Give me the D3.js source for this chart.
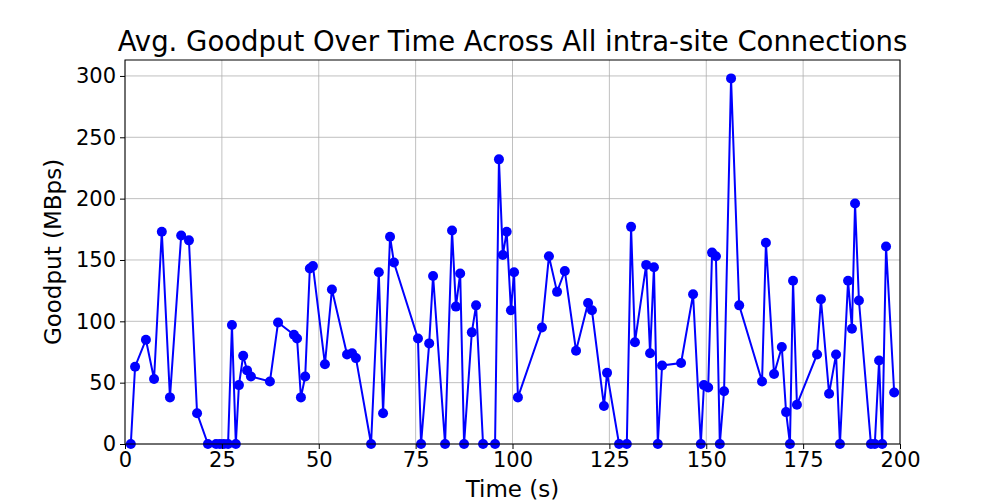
<!DOCTYPE html>
<html><head><meta charset="utf-8">
<script src="https://cdn.jsdelivr.net/npm/d3@7"></script>
<style>body{margin:0;background:#fff}svg{font-family:"DejaVu Sans",sans-serif}</style>
</head><body>
<script>
const times = [1.5,2.6,5.4,7.5,9.5,11.6,14.5,16.5,18.6,21.4,23.5,24.5,25.5,26.6,27.6,28.6,29.4,30.5,31.5,32.5,37.4,39.5,43.6,44.4,45.4,46.5,47.7,48.5,51.6,53.4,57.3,58.6,59.6,63.5,65.5,66.6,68.4,69.4,75.6,76.4,78.5,79.5,82.6,84.4,85.4,86.5,87.5,89.5,90.6,92.4,95.5,96.5,97.5,98.5,99.6,100.4,101.4,107.6,109.4,111.5,113.5,116.4,119.5,120.5,123.6,124.4,127.5,129.5,130.6,131.6,134.5,135.5,136.5,137.5,138.6,143.5,146.6,148.6,149.4,150.5,151.5,152.5,153.5,154.6,156.4,158.5,164.4,165.4,167.5,169.5,170.6,171.6,172.4,173.4,178.6,179.6,181.7,183.5,184.5,186.6,187.6,188.4,189.4,192.5,193.5,194.6,195.4,196.4,198.5];
const goodput = [0,63,85,53,173,38,170,166,25,0,0,0,0,0,97,0,48,72,60,55,51,99,89,86,38,55,143,145,65,126,73,74,70,0,140,25,169,148,86,0,82,137,0,174,112,139,0,91,113,0,0,232,154,173,109,140,38,95,153,124,141,76,115,109,31,58,0,0,177,83,146,74,144,0,64,66,122,0,48,46,156,153,0,43,298,113,51,164,57,79,26,0,133,32,73,118,41,73,0,133,94,196,117,0,0,68,0,161,42];
const xTicks = [0,25,50,75,100,125,150,175,200];
const yTicks = [0,50,100,150,200,250,300];

const W = 1000, H = 500;
const m = {left:125, right:100, top:60, bottom:56};
const svg = d3.select("body").append("svg").attr("width", W).attr("height", H);
const x = d3.scaleLinear().domain([0,200]).range([m.left, W-m.right]);
const y = d3.scaleLinear().domain([0,313]).range([H-m.bottom, m.top]);

// grid
svg.append("g").selectAll("line").data(xTicks).join("line")
  .attr("x1", d=>x(d)).attr("x2", d=>x(d)).attr("y1", y(0)).attr("y2", m.top)
  .attr("stroke", "#b0b0b0").attr("stroke-width", 0.8);
svg.append("g").selectAll("line").data(yTicks).join("line")
  .attr("x1", m.left).attr("x2", W-m.right).attr("y1", d=>y(d)).attr("y2", d=>y(d))
  .attr("stroke", "#b0b0b0").attr("stroke-width", 0.8);

const pts = times.map((t,i)=>[t, goodput[i]]);
svg.append("path").datum(pts)
  .attr("d", d3.line().x(d=>x(d[0])).y(d=>y(d[1])))
  .attr("fill","none").attr("stroke","#0000ff").attr("stroke-width",2);
svg.append("g").selectAll("circle").data(pts).join("circle")
  .attr("cx", d=>x(d[0])).attr("cy", d=>y(d[1])).attr("r", 5).attr("fill","#0000ff");

svg.append("rect").attr("x", m.left).attr("y", m.top)
  .attr("width", W-m.left-m.right).attr("height", H-m.top-m.bottom)
  .attr("fill","none").attr("stroke","#000").attr("stroke-width",1);

const xa = svg.append("g").attr("transform", `translate(0,${y(0)})`)
  .call(d3.axisBottom(x).tickValues(xTicks).tickSize(5).tickPadding(3));
const ya = svg.append("g").attr("transform", `translate(${m.left},0)`)
  .call(d3.axisLeft(y).tickValues(yTicks).tickSize(5).tickPadding(4));
[xa, ya].forEach(a => {
  a.select(".domain").remove();
  a.selectAll("text").attr("font-size", 21).attr("font-family", "DejaVu Sans").attr("fill","#000");
});

svg.append("text").attr("x", (m.left+W-m.right)/2).attr("y", 51)
  .attr("text-anchor","middle").attr("font-size", 27.5).text("Avg. Goodput Over Time Across All intra-site Connections");
svg.append("text").attr("x", (m.left+W-m.right)/2).attr("y", 497)
  .attr("text-anchor","middle").attr("font-size", 23).text("Time (s)");
svg.append("text").attr("transform", `translate(61,${(m.top+H-m.bottom)/2}) rotate(-90)`)
  .attr("text-anchor","middle").attr("font-size", 23).text("Goodput (MBps)");
</script>
</body></html>
